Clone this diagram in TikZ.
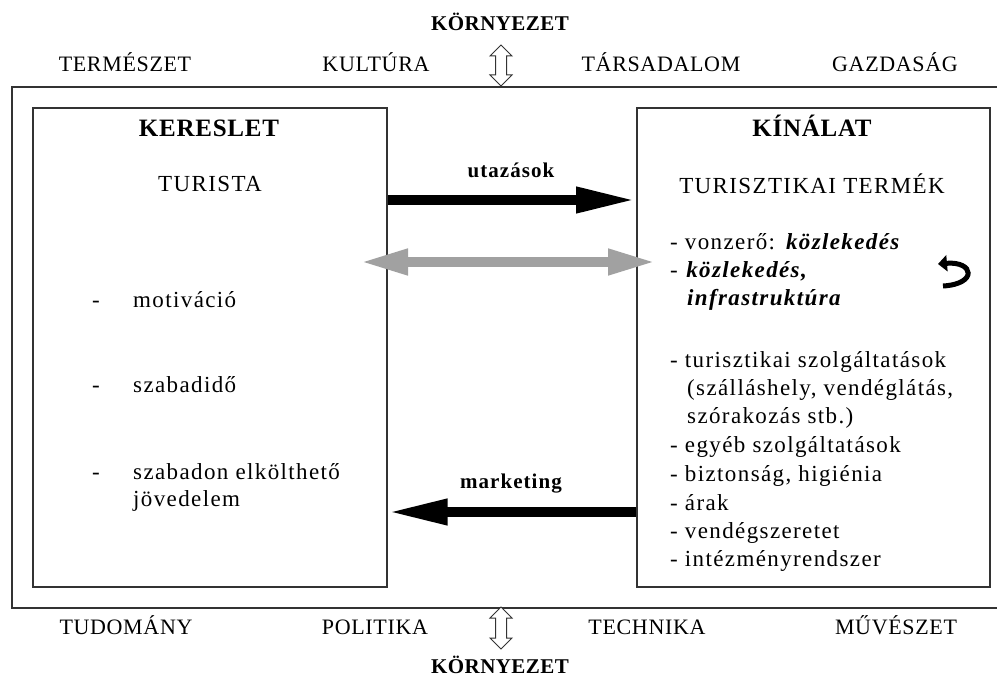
\documentclass[tikz,border=0pt]{standalone}
\usepackage{fontspec}
\setmainfont{Liberation Serif}
\newfontfamily\spaced[LetterSpace=6]{Liberation Serif}
\newfontfamily\spacedlbl[LetterSpace=3]{Liberation Serif}
\newfontfamily\spacedenv[LetterSpace=2]{Liberation Serif}
\newfontfamily\spacedarr[LetterSpace=5]{Liberation Serif}
\newfontfamily\spacedhdr[LetterSpace=3]{Liberation Serif}
\usetikzlibrary{arrows.meta}
\begin{document}
\begin{tikzpicture}[x=1pt,y=-1pt,
  base/.style={inner sep=0pt, text height=0.7em, text depth=0.2em, yshift=-3pt},
  lbl/.style={base, font=\spacedlbl\fontsize{22}{24}\selectfont},
  hdr/.style={base, font=\spacedhdr\bfseries\fontsize{25}{27}\selectfont},
  env/.style={base, font=\spacedenv\bfseries\fontsize{21}{23}\selectfont},
  arl/.style={base, font=\spacedarr\bfseries\fontsize{21}{23}\selectfont},
  itm/.style={base, font=\spaced\fontsize{23}{25}\selectfont, anchor=west},
  sub/.style={base, font=\spaced\fontsize{23}{25}\selectfont},
  boxst/.style={draw=black!80, line width=1.6pt, inner sep=0pt},
  bigarrow/.style={line width=10pt, -{Triangle[length=60pt,width=24pt]}},
  hollow/.style={draw=black!80, fill=white, line width=1pt}
]
\useasboundingbox (0,0) rectangle (997,679);
% outer frame
\node[boxst, minimum width=1000pt, minimum height=521pt, anchor=north west] (outer) at (11,86) {};
% inner boxes
\node[boxst, minimum width=354pt, minimum height=479pt, anchor=north west] (dem) at (32,107) {};
\node[boxst, minimum width=353pt, minimum height=479pt, anchor=north west] (sup) at (636,107) {};

% environment labels
\node[env] (envtop) at (500,25) {KÖRNYEZET};
\node[env] (envbot) at (500,668) {KÖRNYEZET};
\node[lbl] (t1) at (125,66) {TERMÉSZET};
\node[lbl] (t2) at (376,66) {KULTÚRA};
\node[lbl] (t3) at (661,66) {TÁRSADALOM};
\node[lbl] (t4) at (895,66) {GAZDASÁG};
\node[lbl] (b1) at (126,629) {TUDOMÁNY};
\node[lbl] (b2) at (375,629) {POLITIKA};
\node[lbl] (b3) at (647,629) {TECHNIKA};
\node[lbl] (b4) at (896,629) {MŰVÉSZET};

% hollow double arrows
\coordinate (ua) at (501,45);
\coordinate (da) at (501,607);
\draw[hollow] (ua) -- ++(11,11) -- ++(-5.5,0) -- ++(0,19) -- ++(5.5,0) -- ++(-11,11) -- ++(-11,-11) -- ++(5.5,0) -- ++(0,-19) -- ++(-5.5,0) -- cycle;
\draw[hollow] (da) -- ++(11,11) -- ++(-5.5,0) -- ++(0,20) -- ++(5.5,0) -- ++(-11,11) -- ++(-11,-11) -- ++(5.5,0) -- ++(0,-20) -- ++(-5.5,0) -- cycle;

% left box content
\node[hdr] (kereslet) at (209,131) {KERESLET};
\node[sub] (turista) at (210,186) {TURISTA};
\node[itm] (d1) at (92,302) {-};
\node[itm] (m1) at (133,302) {motiváció};
\node[itm] (d2) at (92,387) {-};
\node[itm] (m2) at (133,387) {szabadidő};
\node[itm] (d3) at (92,474) {-};
\node[itm] (m3) at (133,474) {szabadon elkölthető};
\node[itm] (m4) at (133,501) {jövedelem};

% right box content
\node[hdr] (kinalat) at (812,131) {KÍNÁLAT};
\node[sub] (termek) at (812,188) {TURISZTIKAI TERMÉK};
\node[itm] (r1) at (670,244) {- vonzerő: \textbf{\textit{közlekedés}}};
\node[itm] (r2) at (670,272) {- \textbf{\textit{közlekedés,}}};
\node[itm] (r3) at (687,300) {\textbf{\textit{infrastruktúra}}};
\node[itm] (r4) at (670,362) {- turisztikai szolgáltatások};
\node[itm] (r5) at (687,390) {(szálláshely, vendéglátás,};
\node[itm] (r6) at (687,418) {szórakozás stb.)};
\node[itm] (r7) at (670,447) {- egyéb szolgáltatások};
\node[itm] (r8) at (670,476) {- biztonság, higiénia};
\node[itm] (r9) at (670,505) {- árak};
\node[itm] (r10) at (670,533) {- vendégszeretet};
\node[itm] (r11) at (670,561) {- intézményrendszer};

% arrows between boxes
\node[arl] (utaz) at (511,172) {utazások};
\node[arl] (mark) at (511,483) {marketing};
\draw[bigarrow] (dem.east |- 0,200) -- (sup.west |- 0,200);
\draw[bigarrow] (sup.west |- 0,512) -- (dem.east |- 0,512);
\coordinate (gl) at (360,262);
\coordinate (gr) at (656,262);
\draw[line width=10pt, draw=black!37, {Triangle[length=48pt,width=24pt]}-{Triangle[length=48pt,width=24pt]}] (gl) -- (gr);

% curved arrow
\coordinate (cs) at (943,286);
\coordinate (ce) at (938,264);
\draw[line width=5pt, -{Triangle[length=9pt,width=16pt]}] (cs) .. controls (978,284) and (974,261) .. (ce);
\end{tikzpicture}
\end{document}
